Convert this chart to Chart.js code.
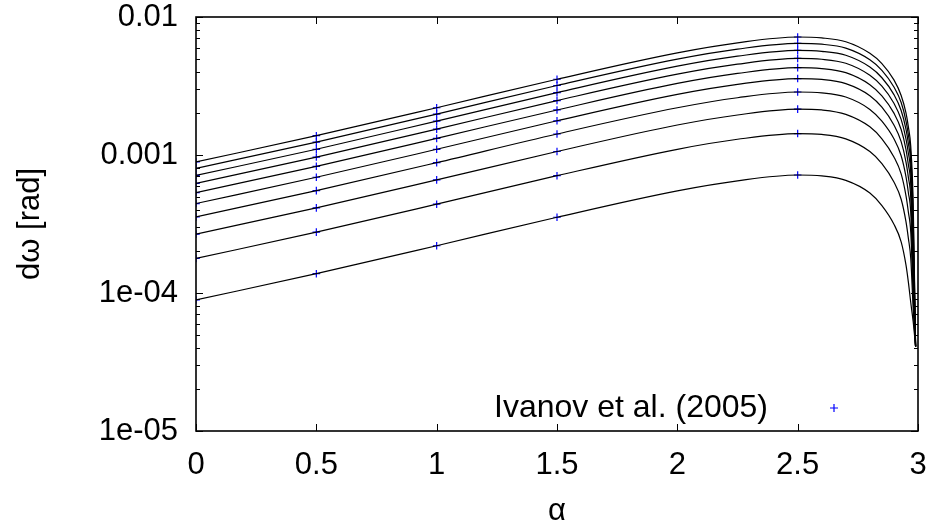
<!DOCTYPE html>
<html>
<head>
<meta charset="utf-8">
<script src="https://cdn.jsdelivr.net/npm/chart.js@4.4.1/dist/chart.umd.min.js"></script>
<style>
  html, body { margin: 0; padding: 0; background: #fff; }
  #contenedor { width: 933px; height: 529px; }
</style>
</head>
<body>
<div id="contenedor"><canvas id="grafico" width="933" height="529"></canvas></div>
<script>
// Valores de alfa donde se leen las curvas
const alfa = [0, 0.5, 1, 1.5, 2, 2.25, 2.5, 2.6, 2.7, 2.8, 2.85, 2.9, 2.93, 2.95, 2.96, 2.97, 2.98, 2.99];

// Curvas dω(α), de abajo hacia arriba
const curva1  = [8.9e-5, 1.38e-4, 2.2e-4, 3.54e-4, 5.5e-4, 6.5e-4, 7.16e-4, 7.05e-4, 6.55e-4, 5.3e-4, 4.3e-4, 3.15e-4, 2.35e-4, 1.6e-4, 1.2e-4, 8.5e-5, 6.2e-5, 4.1e-5];
const curva2  = [1.78e-4, 2.76e-4, 4.4e-4, 7.08e-4, 1.1e-3, 1.3e-3, 1.43e-3, 1.41e-3, 1.31e-3, 1.06e-3, 8.67e-4, 6.38e-4, 4.78e-4, 3.29e-4, 2.49e-4, 1.77e-4, 7.7e-5, 4.1e-5];
const curva3  = [2.67e-4, 4.14e-4, 6.6e-4, 1.06e-3, 1.65e-3, 1.95e-3, 2.15e-3, 2.12e-3, 1.97e-3, 1.6e-3, 1.31e-3, 9.68e-4, 7.29e-4, 5.08e-4, 3.86e-4, 2.75e-4, 9.6e-5, 4.1e-5];
const curva4  = [3.56e-4, 5.52e-4, 8.8e-4, 1.42e-3, 2.2e-3, 2.6e-3, 2.86e-3, 2.82e-3, 2.63e-3, 2.14e-3, 1.76e-3, 1.31e-3, 9.87e-4, 6.96e-4, 5.33e-4, 3.8e-4, 1.2e-4, 4.1e-5];
const curva5  = [4.45e-4, 6.9e-4, 1.1e-3, 1.77e-3, 2.75e-3, 3.25e-3, 3.58e-3, 3.53e-3, 3.29e-3, 2.69e-3, 2.22e-3, 1.65e-3, 1.25e-3, 8.92e-4, 6.88e-4, 4.91e-4, 1.5e-4, 4.1e-5];
const curva6  = [5.34e-4, 8.28e-4, 1.32e-3, 2.12e-3, 3.3e-3, 3.9e-3, 4.3e-3, 4.23e-3, 3.95e-3, 3.23e-3, 2.68e-3, 2.01e-3, 1.53e-3, 1.1e-3, 8.52e-4, 6.09e-4, 1.87e-4, 4.1e-5];
const curva7  = [6.23e-4, 9.66e-4, 1.54e-3, 2.48e-3, 3.85e-3, 4.55e-3, 5.01e-3, 4.94e-3, 4.62e-3, 3.78e-3, 3.15e-3, 2.37e-3, 1.81e-3, 1.31e-3, 1.03e-3, 7.34e-4, 2.33e-4, 4.1e-5];
const curva8  = [7.12e-4, 1.1e-3, 1.76e-3, 2.83e-3, 4.4e-3, 5.2e-3, 5.73e-3, 5.64e-3, 5.28e-3, 4.34e-3, 3.63e-3, 2.74e-3, 2.1e-3, 1.54e-3, 1.21e-3, 8.65e-4, 2.9e-4, 4.1e-5];
const curva9  = [8.01e-4, 1.24e-3, 1.98e-3, 3.19e-3, 4.95e-3, 5.85e-3, 6.44e-3, 6.35e-3, 5.95e-3, 4.9e-3, 4.11e-3, 3.11e-3, 2.4e-3, 1.77e-3, 1.4e-3, 1.0e-3, 3.6e-4, 4.1e-5];
const curva10 = [8.9e-4, 1.38e-3, 2.2e-3, 3.54e-3, 5.5e-3, 6.5e-3, 7.16e-3, 7.05e-3, 6.62e-3, 5.46e-3, 4.6e-3, 3.5e-3, 2.7e-3, 2.02e-3, 1.6e-3, 1.15e-3, 4.5e-4, 4.1e-5];

// Puntos de Ivanov et al. (2005)
const ivanovAlfa = [0, 0.5, 1, 1.5, 2.5];
const ivanov1  = [8.9e-5, 1.38e-4, 2.2e-4, 3.54e-4, 7.16e-4];
const ivanov2  = [1.78e-4, 2.76e-4, 4.4e-4, 7.08e-4, 1.43e-3];
const ivanov3  = [2.67e-4, 4.14e-4, 6.6e-4, 1.06e-3, 2.15e-3];
const ivanov4  = [3.56e-4, 5.52e-4, 8.8e-4, 1.42e-3, 2.86e-3];
const ivanov5  = [4.45e-4, 6.9e-4, 1.1e-3, 1.77e-3, 3.58e-3];
const ivanov6  = [5.34e-4, 8.28e-4, 1.32e-3, 2.12e-3, 4.3e-3];
const ivanov7  = [6.23e-4, 9.66e-4, 1.54e-3, 2.48e-3, 5.01e-3];
const ivanov8  = [7.12e-4, 1.1e-3, 1.76e-3, 2.83e-3, 5.73e-3];
const ivanov9  = [8.01e-4, 1.24e-3, 1.98e-3, 3.19e-3, 6.44e-3];
const ivanov10 = [8.9e-4, 1.38e-3, 2.2e-3, 3.54e-3, 7.16e-3];

// Marcas de los ejes
const xTicks = [0, 0.5, 1, 1.5, 2, 2.5, 3];
const xTickLabels = ['0', '0.5', '1', '1.5', '2', '2.5', '3'];
const yTicks = [1e-5, 1e-4, 1e-3, 1e-2];
const yTickLabels = ['1e-05', '1e-04', '0.001', '0.01'];

const curvas = [curva1, curva2, curva3, curva4, curva5, curva6, curva7, curva8, curva9, curva10];
const ivanov = [ivanov1, ivanov2, ivanov3, ivanov4, ivanov5, ivanov6, ivanov7, ivanov8, ivanov9, ivanov10];

const fuente = { family: "'Liberation Sans', Arial, sans-serif", size: 31 };
const azul = '#0000ff';

const datasets = curvas.map(c => ({
    type: 'line',
    data: alfa.map((a, i) => ({ x: a, y: c[i] })),
    borderColor: '#000',
    borderWidth: 1.2,
    pointRadius: 0,
    fill: false,
    cubicInterpolationMode: 'monotone'
}));

const puntos = [];
ivanov.forEach(serie => serie.forEach((v, i) => puntos.push({ x: ivanovAlfa[i], y: v })));
datasets.push({
    type: 'scatter',
    label: 'Ivanov et al. (2005)',
    data: puntos,
    pointStyle: 'cross',
    pointRadius: 3.8,
    borderColor: azul,
    borderWidth: 1.2
});

// Marco, marcas hacia dentro y leyenda al estilo gnuplot
const marco = {
    id: 'marco',
    afterDatasetsDraw(chart) {
        const { ctx, chartArea: a, scales: { x, y } } = chart;
        ctx.save();
        ctx.strokeStyle = '#000';
        ctx.lineWidth = 1;
        ctx.beginPath();
        xTicks.forEach(v => {
            const px = Math.round(x.getPixelForValue(v)) + 0.5;
            ctx.moveTo(px, a.bottom); ctx.lineTo(px, a.bottom - 7);
            ctx.moveTo(px, a.top); ctx.lineTo(px, a.top + 7);
        });
        for (let d = 1e-5; d < 0.011; d *= 10) {
            for (let m = 1; m <= 9; m++) {
                const v = m * d;
                if (v > 0.0101) break;
                const py = Math.round(y.getPixelForValue(v)) + 0.5;
                const l = m === 1 ? 7 : 4;
                ctx.moveTo(a.left, py); ctx.lineTo(a.left + l, py);
                ctx.moveTo(a.right, py); ctx.lineTo(a.right - l, py);
            }
        }
        ctx.stroke();
        ctx.lineWidth = 1.6;
        ctx.strokeRect(a.left, a.top, a.right - a.left, a.bottom - a.top);

        // leyenda
        ctx.fillStyle = '#000';
        ctx.font = `32px ${fuente.family}`;
        ctx.textAlign = 'right';
        ctx.textBaseline = 'middle';
        ctx.fillText('Ivanov et al. (2005)', 768, 408);
        ctx.strokeStyle = azul;
        ctx.lineWidth = 1.2;
        ctx.beginPath();
        ctx.moveTo(830, 408); ctx.lineTo(838, 408);
        ctx.moveTo(834, 404); ctx.lineTo(834, 412);
        ctx.stroke();
        ctx.restore();
    }
};

// quitar el relleno que la escala pide por sus etiquetas
const sinRelleno = s => { s.paddingTop = 0; s.paddingBottom = 0; s.paddingLeft = 0; s.paddingRight = 0; };

const grafico = new Chart(document.getElementById('grafico').getContext('2d'), {
    data: { datasets },
    options: {
        responsive: false,
        animation: false,
        layout: { autoPadding: false, padding: { left: 0, right: 15, top: 17, bottom: 0 } },
        plugins: { legend: { display: false }, tooltip: { enabled: false } },
        scales: {
            x: {
                type: 'linear',
                min: 0,
                max: 3,
                afterBuildTicks: s => { s.ticks = xTicks.map(v => ({ value: v })); },
                afterFit: s => { s.height = 98; sinRelleno(s); },
                ticks: {
                    callback: (v, i) => xTickLabels[i],
                    font: fuente, color: '#000', padding: 16,
                    maxRotation: 0, autoSkip: false
                },
                grid: { display: false, drawTicks: false },
                border: { display: false },
                title: { display: true, text: 'α', font: { ...fuente, lineHeight: 1 }, color: '#000', padding: { top: 0, bottom: 2 } }
            },
            y: {
                type: 'logarithmic',
                min: 1e-5,
                max: 1e-2,
                afterBuildTicks: s => { s.ticks = yTicks.map(v => ({ value: v })); },
                afterFit: s => { s.width = 196; sinRelleno(s); },
                ticks: {
                    callback: (v, i) => yTickLabels[i],
                    font: fuente, color: '#000', padding: 18,
                    autoSkip: false
                },
                grid: { display: false, drawTicks: false },
                border: { display: false },
                title: { display: true, text: 'dω [rad]', font: fuente, color: '#000', padding: { top: 12, bottom: 0 } }
            }
        }
    },
    plugins: [marco]
});
</script>
</body>
</html>
